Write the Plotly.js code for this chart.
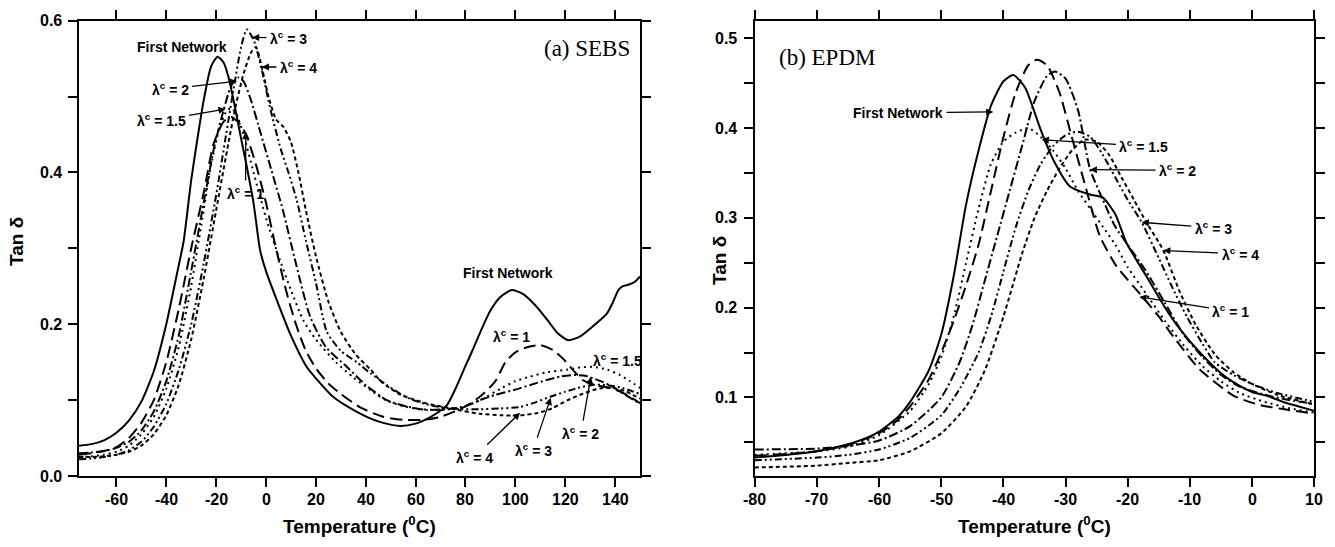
<!DOCTYPE html>
<html>
<head>
<meta charset="utf-8">
<script src="https://cdn.plot.ly/plotly-3.0.1.min.js"></script>
<style>
html,body{margin:0;padding:0;background:#fff;}
#chart{width:1335px;height:547px;}
</style>
</head>
<body>
<div id="chart"></div>
<script>
// ---------- (a) SEBS ----------
const sebsFirstT = [-75,-70,-65,-60,-55,-50,-45,-40,-36,-33,-30,-27,-25,-22,-19.4,-17,-15,-13,-10,-7.7,-5,-2.4,0,4.3,9.6,16.3,21,27,35,40.4,47,53.8,60,65,69,72.5,76,80,83,86,90,94,98.6,103,108,113,117,121.3,126,131,136.7,139,141.3,143,145.3,148,150];
const sebsFirstY = [0.04,0.042,0.047,0.057,0.073,0.098,0.138,0.2,0.262,0.31,0.39,0.455,0.495,0.54,0.5525,0.545,0.525,0.495,0.445,0.4075,0.36,0.298,0.27,0.232,0.188,0.144,0.125,0.104,0.087,0.078,0.07,0.066,0.069,0.076,0.084,0.093,0.115,0.145,0.167,0.19,0.218,0.236,0.245,0.24,0.225,0.205,0.188,0.179,0.184,0.197,0.214,0.228,0.245,0.25,0.252,0.256,0.263];

const sebsL1T = [-75,-70,-65,-60,-55,-50,-45,-40,-35,-30,-25,-21,-17,-14,-11,-8,-4,0,4,8,12,16,20,25,30,38,47,55,63,70,79,86,92,96,100,105,110,115,119,122,127,132,138,143,150];
const sebsL1Y = [0.028,0.03,0.033,0.038,0.05,0.07,0.1,0.15,0.22,0.3,0.373,0.438,0.467,0.473,0.466,0.45,0.41,0.36,0.3,0.245,0.2,0.165,0.142,0.122,0.108,0.09,0.078,0.074,0.074,0.078,0.09,0.105,0.125,0.15,0.163,0.17,0.1725,0.166,0.155,0.144,0.1265,0.12,0.116,0.11,0.096];

const sebsL15T = [-75,-70,-65,-60,-55,-50,-45,-40,-35,-30,-26,-22,-19,-16,-14,-12,-9,-5,0,5,10,15,20,28,35,42,48,55,62,70,78,86,94,100,106,113,120.6,126,131,137,142,146,150];
const sebsL15Y = [0.025,0.026,0.028,0.032,0.04,0.055,0.078,0.115,0.17,0.25,0.33,0.41,0.455,0.48,0.485,0.478,0.45,0.4,0.34,0.29,0.245,0.205,0.18,0.15,0.13,0.113,0.1,0.092,0.088,0.087,0.09,0.1,0.115,0.125,0.131,0.137,0.14,0.143,0.144,0.14,0.133,0.125,0.116];

const sebsL2T = [-75,-70,-65,-60,-55,-50,-45,-40,-35,-30,-25,-21,-18,-15,-13,-11,-9,-6,-2,2,6.8,12,17.7,24,32.4,40,48.4,56,64.5,72,80,85.8,92,99,106,112.6,118,123.4,128,131,135,139,144,150];
const sebsL2Y = [0.03,0.031,0.033,0.037,0.045,0.06,0.085,0.125,0.185,0.27,0.36,0.43,0.47,0.505,0.52,0.525,0.52,0.495,0.45,0.405,0.35,0.28,0.21,0.17,0.144,0.12,0.1,0.092,0.087,0.088,0.092,0.1,0.107,0.113,0.12,0.1265,0.131,0.133,0.132,0.129,0.124,0.1175,0.107,0.095];

const sebsL3T = [-75,-70,-65,-60,-55,-50,-45,-40,-35,-30,-25,-20,-16,-13,-10,-7.7,-5,-2,2,6,9,12.3,16,20,24.4,30,36.4,42,48.4,54,59,65,69.8,78,86,94,102,108,114,120,125,131,136,142,150];
const sebsL3Y = [0.022,0.023,0.025,0.028,0.034,0.045,0.065,0.095,0.14,0.2,0.28,0.37,0.45,0.51,0.565,0.5885,0.575,0.54,0.48,0.43,0.4,0.364,0.31,0.255,0.19,0.165,0.15,0.135,0.12,0.108,0.1,0.094,0.091,0.088,0.088,0.089,0.091,0.097,0.1045,0.111,0.116,0.12,0.12,0.117,0.108];

const sebsL4T = [-75,-70,-65,-60,-55,-50,-45,-40,-35,-30,-25,-20,-15,-12,-9,-6,-4,-1.7,1,4,7,10,13,16,20,25,30,36,42,45.7,50,54,60,65,69.8,77,85.8,94,102,109,115,121,126,131,135,139,144,150];
const sebsL4Y = [0.025,0.025,0.026,0.028,0.032,0.04,0.055,0.08,0.12,0.18,0.26,0.35,0.44,0.49,0.53,0.558,0.565,0.539,0.5,0.47,0.46,0.44,0.4,0.35,0.29,0.23,0.19,0.16,0.14,0.126,0.115,0.107,0.1,0.095,0.092,0.087,0.082,0.08,0.08,0.083,0.0895,0.1,0.107,0.113,0.116,0.116,0.112,0.102];

// ---------- (b) EPDM ----------
const epdmFirstT = [-80,-75,-70,-65,-62,-60,-57,-55,-52,-50,-48,-46,-44,-42,-40,-38.4,-36.5,-34,-32,-29.3,-26.1,-24,-22,-20.2,-17,-14,-11.6,-8.4,-5,-3,0,2.3,5,7.5,10];
const epdmFirstY = [0.033,0.036,0.04,0.048,0.055,0.062,0.078,0.095,0.13,0.17,0.235,0.315,0.375,0.425,0.452,0.459,0.445,0.398,0.365,0.335,0.326,0.3225,0.304,0.272,0.235,0.2,0.176,0.15,0.127,0.117,0.106,0.102,0.095,0.09,0.085];

const epdmL1T = [-80,-75,-70,-65,-60,-57,-55,-52,-50,-48,-46,-44,-42,-40,-38,-36,-34.65,-33,-31,-29,-27,-24.5,-21.8,-18,-15,-12.7,-8.4,-3,1,5,10];
const epdmL1Y = [0.035,0.037,0.04,0.047,0.06,0.075,0.09,0.12,0.15,0.185,0.225,0.27,0.33,0.39,0.44,0.47,0.476,0.47,0.44,0.39,0.34,0.28,0.246,0.215,0.19,0.168,0.131,0.102,0.092,0.087,0.082];

const epdmL15T = [-80,-70,-65,-60,-55,-52,-50,-48,-46,-44,-42,-40,-38,-36,-34,-32,-30,-28,-26,-24,-22,-20,-17,-14,-11,-8,-5,-2,2,6,10];
const epdmL15Y = [0.036,0.04,0.045,0.058,0.085,0.115,0.145,0.19,0.25,0.31,0.36,0.385,0.395,0.4,0.39,0.375,0.355,0.33,0.31,0.29,0.27,0.245,0.215,0.185,0.158,0.135,0.118,0.105,0.095,0.088,0.083];

const epdmL2T = [-80,-70,-65,-60,-55,-50,-47,-45,-43,-41,-39,-37,-35,-33,-31.7,-30,-28,-26.1,-24,-22,-20,-17,-14,-11,-8,-5,-2,2,6,10];
const epdmL2Y = [0.042,0.043,0.046,0.052,0.068,0.1,0.14,0.18,0.23,0.28,0.33,0.38,0.43,0.458,0.463,0.455,0.42,0.355,0.32,0.29,0.27,0.24,0.205,0.17,0.145,0.125,0.112,0.103,0.097,0.093];

const epdmL3T = [-80,-70,-65,-60,-55,-50,-47,-44,-42,-40,-38,-36,-34,-32,-30,-28,-26,-24,-22,-20,-17.75,-15,-13,-10.5,-8,-6,-3,0,4,8.8,10];
const epdmL3Y = [0.03,0.033,0.036,0.042,0.055,0.08,0.11,0.15,0.19,0.24,0.29,0.33,0.36,0.38,0.392,0.396,0.39,0.37,0.345,0.32,0.295,0.255,0.225,0.19,0.16,0.139,0.125,0.115,0.105,0.097,0.095];

const epdmL4T = [-80,-70,-65,-60,-55,-50,-46,-43,-40,-37,-35,-33,-31,-29,-27,-25,-23,-21,-19,-17,-14.3,-11.6,-9,-6,-3,0,4,10];
const epdmL4Y = [0.022,0.024,0.027,0.03,0.04,0.06,0.09,0.13,0.19,0.26,0.3,0.33,0.355,0.375,0.387,0.385,0.37,0.345,0.32,0.295,0.264,0.217,0.18,0.148,0.128,0.115,0.103,0.092];

const sebsXTicks = [-60,-40,-20,0,20,40,60,80,100,120,140];
const sebsYTicks = [0, 0.2, 0.4, 0.6];
const sebsYLabels = ['0.0', '0.2', '0.4', '0.6'];
const epdmXTicks = [-80,-70,-60,-50,-40,-30,-20,-10,0,10];
const epdmYTicks = [0.1, 0.2, 0.3, 0.4, 0.5];
const epdmYLabels = ['0.1', '0.2', '0.3', '0.4', '0.5'];

const styles = {
  first: 'solid',
  l1: '12px,6px',
  l15: '2px,4px',
  l2: '9px,3px,2px,3px',
  l3: '7px,3px,2px,3px,2px,3px',
  l4: '4px,3px'
};

function tr(x, y, dash, xa, ya) {
  return {x: x, y: y, type: 'scatter', mode: 'lines', xaxis: xa, yaxis: ya,
    line: {color: '#000', width: 2, dash: dash, shape: 'spline', smoothing: 0.6}, hoverinfo: 'skip'};
}

const data = [
  tr(sebsFirstT, sebsFirstY, styles.first, 'x', 'y'),
  tr(sebsL1T, sebsL1Y, styles.l1, 'x', 'y'),
  tr(sebsL15T, sebsL15Y, styles.l15, 'x', 'y'),
  tr(sebsL2T, sebsL2Y, styles.l2, 'x', 'y'),
  tr(sebsL3T, sebsL3Y, styles.l3, 'x', 'y'),
  tr(sebsL4T, sebsL4Y, styles.l4, 'x', 'y'),
  tr(epdmFirstT, epdmFirstY, styles.first, 'x2', 'y2'),
  tr(epdmL1T, epdmL1Y, styles.l1, 'x2', 'y2'),
  tr(epdmL15T, epdmL15Y, styles.l15, 'x2', 'y2'),
  tr(epdmL2T, epdmL2Y, styles.l2, 'x2', 'y2'),
  tr(epdmL3T, epdmL3Y, styles.l3, 'x2', 'y2'),
  tr(epdmL4T, epdmL4Y, styles.l4, 'x2', 'y2')
];

const sans = 'Liberation Sans, Arial, sans-serif';
function axBase() {
  return {
    showgrid: false, zeroline: false, showline: true, linecolor: '#000', linewidth: 2,
    mirror: 'ticks', ticks: 'outside', ticklen: 9, tickwidth: 2, tickcolor: '#000',
    showticklabels: false, fixedrange: true
  };
}
const yDom = [71/547, 526.3/547];

const layout = {
  width: 1335, height: 547,
  margin: {l: 0, r: 0, t: 0, b: 0},
  paper_bgcolor: '#fff', plot_bgcolor: '#fff',
  font: {family: sans, size: 15, color: '#000'},
  showlegend: false, hovermode: false,
  xaxis: Object.assign(axBase(), {domain: [79/1335, 640/1335], range: [-75, 150],
    tickmode: 'array', tickvals: sebsXTicks, anchor: 'y'}),
  yaxis: Object.assign(axBase(), {domain: yDom, range: [0, 0.6], tickmode: 'array', tickvals: sebsYTicks,
    anchor: 'x', minor: {tickmode: 'linear', tick0: 0, dtick: 0.1, ticks: 'outside', ticklen: 9, tickwidth: 2, tickcolor: '#000'}}),
  xaxis2: Object.assign(axBase(), {domain: [754.7/1335, 1314.3/1335], range: [-80, 10],
    tickmode: 'array', tickvals: epdmXTicks, anchor: 'y2'}),
  yaxis2: Object.assign(axBase(), {domain: yDom, range: [0.0125, 0.5196], tickmode: 'array', tickvals: epdmYTicks,
    anchor: 'x2', minor: {tickmode: 'linear', tick0: 0, dtick: 0.05, ticks: 'outside', ticklen: 9, tickwidth: 2, tickcolor: '#000'}}),
  annotations: []
};

// tick labels (bold), placed at the axes' tick values
const tickLabFont = {family: sans, size: 16, color: '#000', weight: 700};
const xLabY = 1 - 499/547;
sebsXTicks.forEach(v => layout.annotations.push({text: String(v), x: v, y: xLabY, xref: 'x', yref: 'paper',
  xanchor: 'center', yanchor: 'middle', showarrow: false, font: tickLabFont}));
epdmXTicks.forEach(v => layout.annotations.push({text: String(v), x: v, y: xLabY, xref: 'x2', yref: 'paper',
  xanchor: 'center', yanchor: 'middle', showarrow: false, font: tickLabFont}));
sebsYTicks.forEach((v, i) => layout.annotations.push({text: sebsYLabels[i], x: 64/1335, y: v, xref: 'paper', yref: 'y',
  xanchor: 'right', yanchor: 'middle', showarrow: false, font: tickLabFont}));
epdmYTicks.forEach((v, i) => layout.annotations.push({text: epdmYLabels[i], x: 739/1335, y: v, xref: 'paper', yref: 'y2',
  xanchor: 'right', yanchor: 'middle', showarrow: false, font: tickLabFont}));

const annFont = {family: sans, size: 14, color: '#000', weight: 700};
function lab(text, x, y, xr, yr) {
  return {text: text, x: x, y: y, xref: xr, yref: yr, xanchor: 'center', yanchor: 'middle', showarrow: false, font: annFont};
}
function arr(text, tx, ty, hx, hy, xr, yr) {
  return {text: text, x: hx, y: hy, ax: tx, ay: ty, xref: xr, yref: yr, axref: xr, ayref: yr,
    showarrow: true, arrowhead: 2, arrowsize: 1.1, arrowwidth: 1.3, arrowcolor: '#000',
    standoff: 0, startstandoff: 2, font: annFont};
}
const L = 'λ<sup>c</sup> = ';
const serif = {family: 'Liberation Serif, Times New Roman, serif', size: 23, color: '#000', weight: 400};
const titleFont = {family: sans, size: 19, color: '#000', weight: 700};
layout.annotations.push(
  // SEBS
  lab('First Network', -33.7, 0.565, 'x', 'y'),
  arr(L + '2', -38.5, 0.51, -11.6, 0.5203, 'x', 'y'),
  arr(L + '1.5', -42.1, 0.469, -16.2, 0.4835, 'x', 'y'),
  arr(L + '3', 9.0, 0.577, -5.6, 0.578, 'x', 'y'),
  arr(L + '4', 13.0, 0.539, -1.7, 0.539, 'x', 'y'),
  arr(L + '1', -8.2, 0.373, -8.1, 0.4535, 'x', 'y'),
  lab('First Network', 97.1, 0.267, 'x', 'y'),
  lab(L + '1', 98.5, 0.184, 'x', 'y'),
  lab(L + '1.5', 141, 0.153, 'x', 'y'),
  arr(L + '2', 126.3, 0.0566, 130.3, 0.1308, 'x', 'y'),
  arr(L + '3', 107.1, 0.0342, 114.2, 0.103, 'x', 'y'),
  arr(L + '4', 83.8, 0.0254, 101.9, 0.0834, 'x', 'y'),
  {text: '(a) SEBS', x: 128.7, y: 0.5637, xref: 'x', yref: 'y', xanchor: 'center', yanchor: 'middle', showarrow: false, font: serif},
  // EPDM
  {text: '(b) EPDM', x: -68.45, y: 0.479, xref: 'x2', yref: 'y2', xanchor: 'center', yanchor: 'middle', showarrow: false, font: serif},
  arr('First Network', -56.95, 0.417, -41.63, 0.418, 'x2', 'y2'),
  arr(L + '1.5', -17.4, 0.38, -33.85, 0.387, 'x2', 'y2'),
  arr(L + '2', -12.0, 0.353, -26.1, 0.3537, 'x2', 'y2'),
  arr(L + '3', -6.25, 0.289, -17.76, 0.295, 'x2', 'y2'),
  arr(L + '4', -1.95, 0.26, -14.3, 0.2637, 'x2', 'y2'),
  arr(L + '1', -3.4, 0.196, -18.15, 0.212, 'x2', 'y2'),
  // axis titles
  {text: 'Tan δ', x: 16/1335, y: 1 - 242/547, xref: 'paper', yref: 'paper', xanchor: 'center', yanchor: 'middle',
   showarrow: false, textangle: -90, font: titleFont},
  {text: 'Tan δ', x: 719/1335, y: 1 - 261/547, xref: 'paper', yref: 'paper', xanchor: 'center', yanchor: 'middle',
   showarrow: false, textangle: -90, font: titleFont},
  {text: 'Temperature (<sup>0</sup>C)', x: 359.5/1335, y: 1 - 525/547, xref: 'paper', yref: 'paper', xanchor: 'center', yanchor: 'middle',
   showarrow: false, font: titleFont},
  {text: 'Temperature (<sup>0</sup>C)', x: 1034.5/1335, y: 1 - 525/547, xref: 'paper', yref: 'paper', xanchor: 'center', yanchor: 'middle',
   showarrow: false, font: titleFont}
);

Plotly.newPlot('chart', data, layout, {displayModeBar: false, staticPlot: true});
</script>
</body>
</html>
